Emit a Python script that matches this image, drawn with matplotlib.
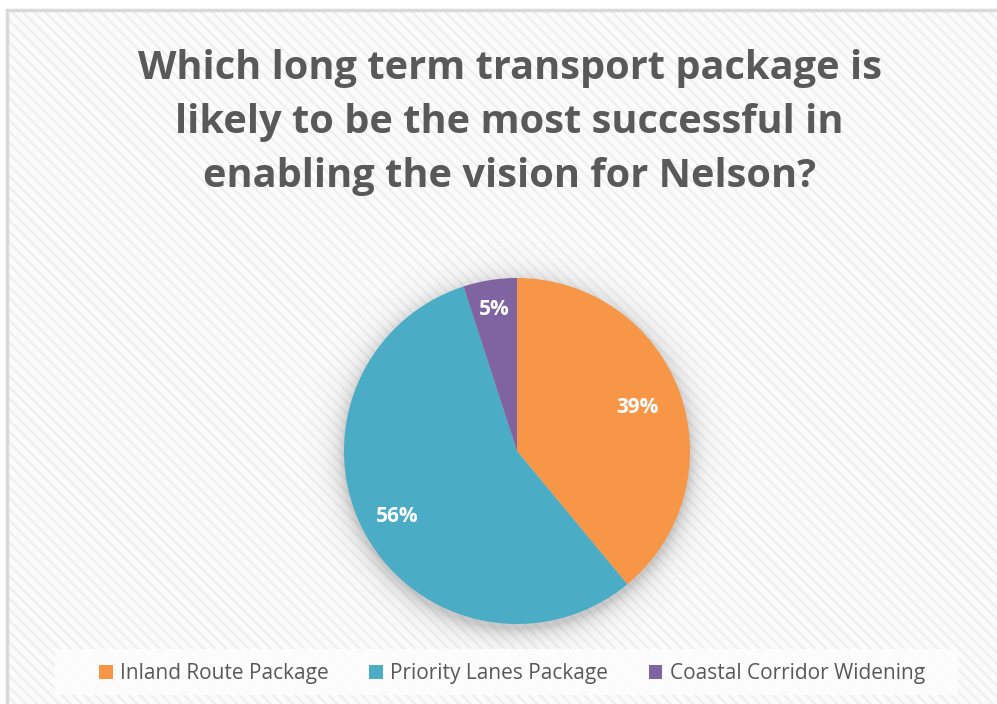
import numpy as np
import matplotlib
matplotlib.use("Agg")
import matplotlib.pyplot as plt
from matplotlib.patches import Rectangle, Patch

# Survey results
categories = ["Inland Route Package", "Priority Lanes Package", "Coastal Corridor Widening"]
shares = [39, 56, 5]
colors = ["#F79646", "#4BACC6", "#8064A2"]
title = "Which long term transport package is\nlikely to be the most successful in\nenabling the vision for Nelson?"

W, H = 997, 704
plt.rcParams["hatch.linewidth"] = 1.6
plt.rcParams["font.family"] = ["Open Sans", "DejaVu Sans"]

fig = plt.figure(figsize=(W / 100, H / 100), dpi=100)
ax = fig.add_axes([0, 0, 1, 1])
fig.patch.set_facecolor("white")

# Chart area with diagonal stripe texture and border
ax.add_patch(Rectangle((7, -5), W, H - 10 + 5, facecolor="#fbfbfb",
                       edgecolor="#efefef", hatch="\\\\\\", linewidth=0, zorder=0))
ax.add_patch(Rectangle((7, -5), W, H - 10 + 5, facecolor="none",
                       edgecolor="#d9d9d9", linewidth=2.5, zorder=1))

# Pie geometry (pixel space)
cx, cy, r = 517, H - 451, 173

# Soft shadow around the pie
ext = 60
xs = np.linspace(cx - r - ext, cx + r + ext, 400)
ys = np.linspace(cy - r - ext, cy + r + ext, 400)
X, Y = np.meshgrid(xs, ys)
d = np.hypot(X - cx, Y - (cy - 5)) - r
alpha = np.clip(np.exp(-np.clip(d, 0, None) / 10.0) * 0.3, 0, 1)
alpha[d < 0] = 0.3
img = np.zeros(X.shape + (4,))
img[..., :3] = 0.35
img[..., 3] = alpha
ax.imshow(img, extent=(xs[0], xs[-1], ys[0], ys[-1]), origin="lower",
          zorder=2, interpolation="bilinear")

wedges, _ = ax.pie(shares, colors=colors, startangle=90, counterclock=False,
                   center=(cx, cy), radius=r, frame=True,
                   wedgeprops=dict(linewidth=0))
for w in wedges:
    w.set_zorder(3)
ax.set_xlim(0, W)
ax.set_ylim(0, H)
ax.set_aspect("equal")
ax.axis("off")

# Percentage labels inside each slice
label_radius = [0.74, 0.79, 0.83]
for w, s, f in zip(wedges, shares, label_radius):
    mid = np.deg2rad((w.theta1 + w.theta2) / 2)
    ax.text(cx + f * r * np.cos(mid), cy + f * r * np.sin(mid), f"{s}%",
            ha="center", va="center", color="white", fontsize=15,
            fontweight="bold", zorder=4)

# Title
ax.text(W / 2 + 11, H - 123, title, ha="center", va="center", fontsize=28.6,
        fontweight="bold", color="#595959", linespacing=1.5, zorder=4)

# Legend
ax.add_patch(Rectangle((55, H - 695), 903, 46, facecolor="#fdfdfd",
                       edgecolor="none", alpha=0.9, zorder=2))
handles = [Patch(facecolor=c, edgecolor="none") for c in colors]
leg = ax.legend(handles, categories, loc="center", bbox_to_anchor=(512 / W, 1 - 674 / H),
                bbox_transform=fig.transFigure, ncol=3, frameon=False,
                fontsize=15, handlelength=0.65, handleheight=0.65,
                handletextpad=0.35, columnspacing=1.95)
for t in leg.get_texts():
    t.set_color("#595959")

fig.savefig("out.png", dpi=100)
